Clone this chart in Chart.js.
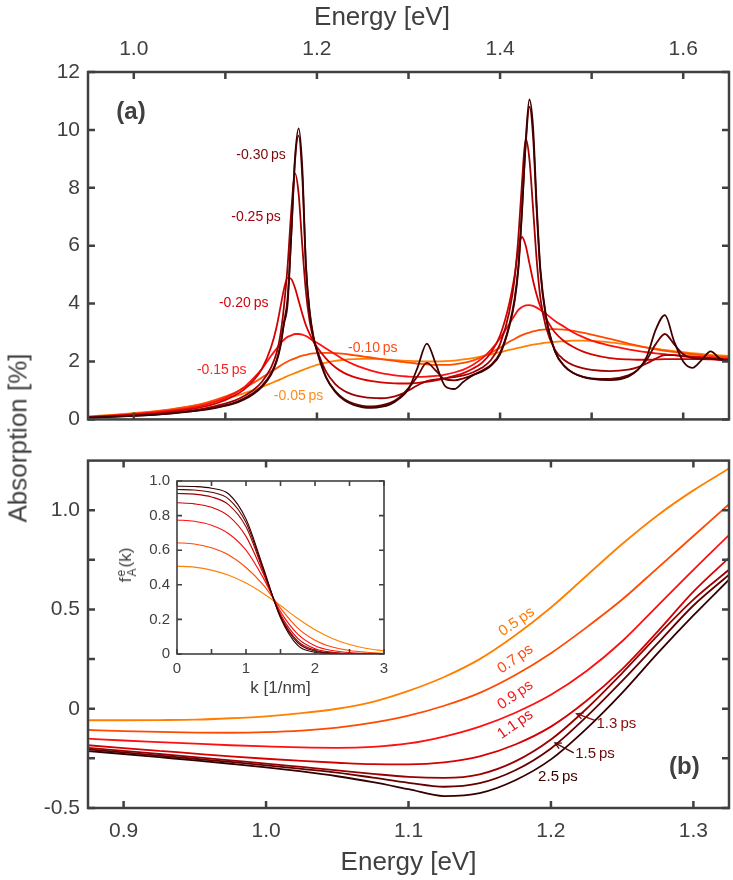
<!DOCTYPE html>
<html>
<head>
<meta charset="utf-8">
<title>Absorption spectra</title>
<script src="https://cdn.jsdelivr.net/npm/chart.js@4.4.1/dist/chart.umd.min.js"></script>
<style>
  body { margin: 0; background: #fff; }
  #fig { position: relative; width: 733px; height: 880px; font-family: 'Liberation Sans', Arial, sans-serif; color: #404040; }
  #fig canvas { position: absolute; display: block; }
  #ylab { position: absolute; left: 18px; top: 438px; transform: translate(-50%, -50%) rotate(-90deg); font-size: 26px; white-space: nowrap; }
  #xlabTop { position: absolute; left: 382px; top: 16px; transform: translate(-50%, -50%); font-size: 26px; white-space: nowrap; }
  #flab { position: absolute; left: 127px; top: 565px; transform: translate(-50%, -50%) rotate(-90deg); font-size: 17px; white-space: nowrap; }
  .ss { display: inline-block; vertical-align: middle; font-size: 12px; line-height: 11px; margin: 0 1px; }
  .ss span { display: block; }
</style>
</head>
<body>
<div id="fig">
  <canvas id="cA" width="733" height="440" style="left:0;top:0"></canvas>
  <canvas id="cB" width="733" height="440" style="left:0;top:440px"></canvas>
  <canvas id="cC" width="290" height="245" style="left:110px;top:465px"></canvas>
  <div id="xlabTop">Energy [eV]</div>
  <div id="ylab">Absorption [%]</div>
  <div id="flab">f<span class="ss"><span>e</span><span>A</span></span>(k)</div>
</div>
<script>
// ---- panel (a): absorption vs energy, early delays ----
const energyA = [0.95, 1.00, 1.04, 1.07, 1.09, 1.11, 1.12, 1.13, 1.14, 1.15,
  1.156, 1.160, 1.164, 1.168, 1.172, 1.176, 1.180, 1.184, 1.188, 1.192,
  1.196, 1.20, 1.21, 1.22, 1.23, 1.24, 1.25, 1.26, 1.27, 1.28,
  1.29, 1.30, 1.31, 1.32, 1.33, 1.34, 1.35, 1.36, 1.37, 1.38,
  1.39, 1.40, 1.41, 1.416, 1.420, 1.424, 1.428, 1.432, 1.436, 1.440,
  1.444, 1.45, 1.46, 1.47, 1.48, 1.49, 1.50, 1.52, 1.54, 1.55,
  1.56, 1.57, 1.58, 1.59, 1.60, 1.61, 1.62, 1.63, 1.64, 1.65];

const absA1 = [0.06, 0.12, 0.20, 0.30, 0.40, 0.55, 0.68, 0.86, 1.12, 1.55,
  2.0, 2.5, 3.3, 4.0, 6.4, 9.0, 10.05, 8.7, 5.3, 3.7,
  2.85, 2.4, 1.45, 0.95, 0.66, 0.50, 0.42, 0.40, 0.43, 0.52,
  0.72, 1.05, 1.8, 2.62, 1.9, 1.15, 1.05, 1.3, 1.52, 1.65,
  1.85, 2.25, 3.2, 4.1, 5.2, 7.2, 9.6, 11.05, 10.1, 7.4,
  5.2, 3.6, 2.35, 1.85, 1.6, 1.47, 1.4, 1.36, 1.48, 1.7,
  2.15, 3.1, 3.6, 2.7, 2.0, 1.78, 2.05, 2.35, 2.1, 2.02];
const absA2 = [0.06, 0.12, 0.21, 0.31, 0.42, 0.58, 0.72, 0.9, 1.17, 1.6,
  2.05, 2.55, 3.35, 4.2, 6.4, 8.9, 9.8, 8.4, 5.3, 3.75,
  2.9, 2.35, 1.45, 0.98, 0.70, 0.55, 0.47, 0.45, 0.48, 0.57,
  0.76, 1.08, 1.5, 1.95, 1.68, 1.38, 1.35, 1.42, 1.53, 1.68,
  1.88, 2.3, 3.25, 4.2, 5.3, 7.3, 9.5, 10.8, 9.8, 7.2,
  5.1, 3.55, 2.35, 1.85, 1.6, 1.48, 1.42, 1.4, 1.52, 1.7,
  2.05, 2.6, 2.95, 2.6, 2.25, 2.12, 2.1, 2.1, 2.06, 2.03];
const absA3 = [0.07, 0.14, 0.23, 0.34, 0.47, 0.65, 0.8, 1.0, 1.3, 1.8,
  2.3, 2.9, 3.9, 5.3, 7.2, 8.5, 7.8, 6.0, 4.4, 3.4,
  2.8, 2.4, 1.65, 1.22, 0.98, 0.85, 0.78, 0.74, 0.73, 0.76,
  0.85, 1.0, 1.18, 1.32, 1.38, 1.42, 1.46, 1.52, 1.62, 1.78,
  2.05, 2.6, 3.7, 4.9, 6.3, 8.2, 9.7, 9.0, 7.3, 5.5,
  4.2, 3.2, 2.4, 2.05, 1.87, 1.77, 1.71, 1.67, 1.72, 1.8,
  1.93, 2.1, 2.22, 2.22, 2.18, 2.15, 2.12, 2.1, 2.08, 2.06];
const absA4 = [0.08, 0.16, 0.27, 0.40, 0.55, 0.82, 1.02, 1.32, 1.75, 2.5,
  3.2, 3.85, 4.5, 4.9, 4.85, 4.55, 4.1, 3.65, 3.25, 2.95,
  2.7, 2.5, 2.1, 1.8, 1.6, 1.47, 1.38, 1.32, 1.28, 1.25,
  1.24, 1.24, 1.26, 1.3, 1.35, 1.42, 1.5, 1.6, 1.75, 1.95,
  2.3, 2.9, 4.0, 5.0, 5.9, 6.3, 6.0, 5.4, 4.8, 4.3,
  3.9, 3.5, 3.0, 2.7, 2.5, 2.35, 2.25, 2.12, 2.07, 2.06,
  2.06, 2.07, 2.08, 2.08, 2.08, 2.08, 2.08, 2.07, 2.06, 2.05];
const absA5 = [0.08, 0.18, 0.30, 0.45, 0.62, 0.9, 1.1, 1.4, 1.75, 2.2,
  2.45, 2.62, 2.75, 2.85, 2.9, 2.95, 2.95, 2.93, 2.88, 2.8,
  2.72, 2.65, 2.45, 2.25, 2.05, 1.9, 1.78, 1.68, 1.6, 1.55,
  1.5, 1.48, 1.47, 1.48, 1.5, 1.55, 1.62, 1.72, 1.88, 2.1,
  2.4, 2.8, 3.3, 3.6, 3.78, 3.88, 3.94, 3.95, 3.92, 3.86,
  3.78, 3.65, 3.4, 3.2, 3.0, 2.85, 2.72, 2.55, 2.42, 2.37,
  2.32, 2.28, 2.25, 2.22, 2.2, 2.18, 2.16, 2.14, 2.12, 2.1];
const absA6 = [0.09, 0.20, 0.34, 0.50, 0.68, 0.92, 1.08, 1.25, 1.45, 1.65,
  1.77, 1.85, 1.93, 2.0, 2.06, 2.11, 2.16, 2.2, 2.23, 2.26,
  2.28, 2.29, 2.3, 2.29, 2.26, 2.22, 2.18, 2.13, 2.08, 2.04,
  2.0, 1.96, 1.93, 1.9, 1.88, 1.88, 1.9, 1.95, 2.03, 2.15,
  2.3, 2.48, 2.68, 2.78, 2.85, 2.91, 2.96, 3.0, 3.04, 3.07,
  3.09, 3.11, 3.12, 3.1, 3.06, 3.0, 2.93, 2.78, 2.62, 2.55,
  2.48, 2.42, 2.37, 2.33, 2.29, 2.25, 2.22, 2.19, 2.17, 2.15];
const absA7 = [0.10, 0.22, 0.35, 0.50, 0.63, 0.8, 0.9, 1.0, 1.12, 1.25,
  1.33, 1.38, 1.44, 1.5, 1.55, 1.6, 1.65, 1.7, 1.75, 1.8,
  1.84, 1.88, 1.96, 2.02, 2.06, 2.08, 2.09, 2.09, 2.08, 2.06,
  2.04, 2.02, 2.01, 2.0, 2.0, 2.01, 2.03, 2.07, 2.12, 2.18,
  2.25, 2.32, 2.4, 2.44, 2.47, 2.5, 2.53, 2.56, 2.58, 2.6,
  2.62, 2.65, 2.68, 2.7, 2.72, 2.72, 2.71, 2.66, 2.58, 2.54,
  2.49, 2.44, 2.4, 2.36, 2.32, 2.29, 2.26, 2.23, 2.21, 2.19];

const xTicksA = [1.0, 1.1, 1.2, 1.3, 1.4, 1.5, 1.6];
const xLabelsA = ['1.0', '', '1.2', '', '1.4', '', '1.6'];
const yTicksA = [0, 2, 4, 6, 8, 10, 12];
const yLabelsA = ['0', '2', '4', '6', '8', '10', '12'];

// ---- panel (b): differential absorption, later delays ----
const energyB = [0.875, 0.9, 0.925, 0.95, 0.975, 1.0, 1.025, 1.05, 1.075, 1.1,
  1.125, 1.15, 1.175, 1.2, 1.225, 1.25, 1.275, 1.3, 1.325];
const delaysB = ['0.5 ps', '0.7 ps', '0.9 ps', '1.1 ps', '1.3 ps', '1.5 ps', '2.5 ps'];
const dAbs05 = [-0.058, -0.058, -0.057, -0.055, -0.048, -0.038, -0.022, 0.0, 0.035, 0.09,
  0.16, 0.25, 0.37, 0.51, 0.67, 0.83, 0.975, 1.1, 1.21];
const dAbs07 = [-0.107, -0.113, -0.117, -0.12, -0.121, -0.118, -0.11, -0.095, -0.07, -0.035,
  0.015, 0.08, 0.17, 0.28, 0.41, 0.55, 0.71, 0.87, 1.03];
const dAbs09 = [-0.151, -0.16, -0.168, -0.176, -0.184, -0.19, -0.195, -0.197, -0.192, -0.175,
  -0.14, -0.09, -0.02, 0.07, 0.19, 0.34, 0.52, 0.70, 0.875];
const dAbs11 = [-0.184, -0.198, -0.212, -0.226, -0.24, -0.252, -0.263, -0.272, -0.279, -0.28,
  -0.27, -0.24, -0.18, -0.09, 0.04, 0.2, 0.39, 0.59, 0.76];
const dAbs13 = [-0.197, -0.212, -0.228, -0.244, -0.26, -0.276, -0.293, -0.31, -0.328, -0.343,
  -0.348, -0.33, -0.265, -0.155, 0.0, 0.18, 0.37, 0.55, 0.70];
const dAbs15 = [-0.205, -0.22, -0.236, -0.252, -0.268, -0.285, -0.303, -0.322, -0.347, -0.373,
  -0.393, -0.375, -0.31, -0.2, -0.04, 0.14, 0.33, 0.52, 0.675];
const dAbs25 = [-0.213, -0.228, -0.244, -0.26, -0.277, -0.295, -0.316, -0.34, -0.37, -0.405,
  -0.44, -0.425, -0.36, -0.255, -0.1, 0.08, 0.28, 0.47, 0.65];

const xTicksB = [0.9, 1.0, 1.1, 1.2, 1.3];
const xLabelsB = ['0.9', '1.0', '1.1', '1.2', '1.3'];
const yTicksB = [-0.5, -0.25, 0, 0.25, 0.5, 0.75, 1.0];
const yLabelsB = ['-0.5', '', '0', '', '0.5', '', '1.0'];

// ---- inset: electron distribution f_A^e(k) ----
const kGrid = [0, 0.25, 0.5, 0.75, 1.0, 1.25, 1.5, 1.75, 2.0, 2.25, 2.5, 2.75, 3.0];
const fA05 = [0.508, 0.502, 0.485, 0.455, 0.41, 0.35, 0.28, 0.205, 0.14, 0.09, 0.055, 0.032, 0.018];
const fA07 = [0.643, 0.636, 0.614, 0.572, 0.5, 0.4, 0.265, 0.15, 0.08, 0.04, 0.02, 0.01, 0.004];
const fA09 = [0.775, 0.767, 0.744, 0.695, 0.6, 0.44, 0.245, 0.115, 0.048, 0.02, 0.008, 0.003, 0.001];
const fA11 = [0.874, 0.868, 0.848, 0.797, 0.68, 0.465, 0.23, 0.09, 0.03, 0.01, 0.003, 0.001, 0];
const fA13 = [0.928, 0.924, 0.908, 0.862, 0.735, 0.48, 0.22, 0.075, 0.022, 0.006, 0.002, 0, 0];
const fA15 = [0.951, 0.948, 0.935, 0.895, 0.76, 0.49, 0.215, 0.065, 0.017, 0.004, 0.001, 0, 0];
const fA25 = [0.97, 0.968, 0.958, 0.925, 0.78, 0.5, 0.21, 0.05, 0.01, 0.002, 0, 0, 0];

const xTicksC = [0, 0.5, 1, 1.5, 2, 2.5, 3];
const xLabelsC = ['0', '', '1', '', '2', '', '3'];
const yTicksC = [0, 0.2, 0.4, 0.6, 0.8, 1.0];
const yLabelsC = ['0', '0.2', '0.4', '0.6', '0.8', '1.0'];

// styles
const AXIS = '#404040';
const FONT = "'Liberation Sans', Arial, sans-serif";
const coloursA = ['#3d0000', '#6a0000', '#a00000', '#d60000', '#ff1010', '#ff4a00', '#ff8000'];
const coloursB = ['#ff8000', '#ff4a00', '#ff1010', '#d60000', '#9a0000', '#650000', '#330000'];

const toXY = (xs, ys) => xs.map((x, i) => ({ x, y: ys[i] }));

// box round the plot area with inward ticks on all four sides
const frame = {
  id: 'frame',
  beforeDatasetsDraw(chart, args, opts) {
    if (!opts.fill) return;
    const { ctx, chartArea: a } = chart;
    ctx.save();
    ctx.fillStyle = '#fff';
    ctx.fillRect(a.left, a.top, a.width, a.height);
    ctx.restore();
  },
  afterDatasetsDraw(chart, args, opts) {
    const { ctx, chartArea: a, scales: { x, y } } = chart;
    const len = opts.len || 7;
    ctx.save();
    ctx.strokeStyle = AXIS;
    ctx.lineWidth = opts.width || 2.5;
    ctx.beginPath();
    x.ticks.forEach(t => {
      const p = x.getPixelForValue(t.value);
      ctx.moveTo(p, a.top); ctx.lineTo(p, a.top + len);
      ctx.moveTo(p, a.bottom); ctx.lineTo(p, a.bottom - len);
    });
    y.ticks.forEach(t => {
      const p = y.getPixelForValue(t.value);
      ctx.moveTo(a.left, p); ctx.lineTo(a.left + len, p);
      ctx.moveTo(a.right, p); ctx.lineTo(a.right - len, p);
    });
    ctx.stroke();
    ctx.strokeRect(a.left, a.top, a.width, a.height);
    ctx.restore();
  }
};

// text labels and arrows placed in data coordinates
const notes = {
  id: 'notes',
  afterDatasetsDraw(chart, args, opts) {
    const { ctx, scales: { x, y } } = chart;
    (opts.arrows || []).forEach(r => {
      const x0 = x.getPixelForValue(r.from[0]), y0 = y.getPixelForValue(r.from[1]);
      const x1 = x.getPixelForValue(r.to[0]), y1 = y.getPixelForValue(r.to[1]);
      const ang = Math.atan2(y1 - y0, x1 - x0), h = 7;
      ctx.save();
      ctx.strokeStyle = r.color;
      ctx.lineWidth = 1.3;
      ctx.beginPath();
      ctx.moveTo(x0, y0); ctx.lineTo(x1, y1);
      ctx.moveTo(x1 - h * Math.cos(ang - 0.45), y1 - h * Math.sin(ang - 0.45));
      ctx.lineTo(x1, y1);
      ctx.lineTo(x1 - h * Math.cos(ang + 0.45), y1 - h * Math.sin(ang + 0.45));
      ctx.stroke();
      ctx.restore();
    });
    (opts.items || []).forEach(n => {
      ctx.save();
      ctx.translate(x.getPixelForValue(n.x), y.getPixelForValue(n.y));
      ctx.rotate((n.rot || 0) * Math.PI / 180);
      ctx.font = n.font || `15px ${FONT}`;
      ctx.fillStyle = n.color;
      ctx.textAlign = n.align || 'center';
      ctx.textBaseline = 'middle';
      ctx.fillText(n.text, 0, 0);
      ctx.restore();
    });
  }
};

function axis(opts) {
  return {
    type: 'linear',
    position: opts.position,
    min: opts.min,
    max: opts.max,
    afterBuildTicks: s => { s.ticks = opts.ticks.map(v => ({ value: v })); },
    afterFit: s => { if (opts.position === 'left') s.width = opts.size; else s.height = opts.size; },
    grid: { display: false, drawTicks: false },
    border: { display: false },
    ticks: {
      autoSkip: false, maxRotation: 0, padding: opts.pad,
      color: AXIS, font: { family: FONT, size: opts.fontSize },
      callback: (v, i) => opts.labels[i]
    },
    title: opts.title ? {
      display: true, text: opts.title, color: AXIS,
      font: { family: FONT, size: opts.titleSize }, padding: opts.titlePad
    } : { display: false }
  };
}

const base = {
  responsive: false,
  animation: false,
  events: [],
  elements: { point: { radius: 0 }, line: { cubicInterpolationMode: 'monotone' } }
};

// panel (a)
new Chart(document.getElementById('cA'), {
  type: 'line',
  data: {
    datasets: [absA1, absA2, absA3, absA4, absA5, absA6, absA7].map((s, i) => ({
      data: toXY(energyA, s), borderColor: coloursA[i], borderWidth: 1.8, fill: false
    }))
  },
  options: {
    ...base,
    layout: { padding: { left: 0, right: 4, top: 0, bottom: 17 } },
    plugins: {
      legend: { display: false }, tooltip: { enabled: false },
      frame: { len: 7, width: 2.5 },
      notes: {
        items: [
          { x: 0.997, y: 10.6, text: '(a)', color: AXIS, font: `bold 24px ${FONT}` },
          { x: 1.139, y: 9.13, text: '-0.30\u2009ps', color: '#7a0a0a', font: `14px ${FONT}` },
          { x: 1.1335, y: 6.97, text: '-0.25\u2009ps', color: '#a00010', font: `14px ${FONT}` },
          { x: 1.120, y: 4.03, text: '-0.20\u2009ps', color: '#d8000a', font: `14px ${FONT}` },
          { x: 1.096, y: 1.71, text: '-0.15\u2009ps', color: '#ff2020', font: `14px ${FONT}` },
          { x: 1.261, y: 2.46, text: '-0.10\u2009ps', color: '#ff4a1a', font: `14px ${FONT}` },
          { x: 1.180, y: 0.82, text: '-0.05\u2009ps', color: '#ff8a1a', font: `14px ${FONT}` }
        ]
      }
    },
    scales: {
      x: axis({ position: 'top', min: 0.95, max: 1.65, ticks: xTicksA, labels: xLabelsA, size: 72,
        pad: 10, fontSize: 21 }),
      y: axis({ position: 'left', min: 0, max: 12, ticks: yTicksA, labels: yLabelsA, size: 88,
        pad: 8, fontSize: 21 })
    }
  },
  plugins: [frame, notes]
});

// panel (b)
new Chart(document.getElementById('cB'), {
  type: 'line',
  data: {
    datasets: [dAbs25, dAbs15, dAbs13, dAbs11, dAbs09, dAbs07, dAbs05].map((s, i) => ({
      label: delaysB[6 - i], data: toXY(energyB, s), borderColor: coloursB[6 - i], borderWidth: 1.8, fill: false
    }))
  },
  options: {
    ...base,
    layout: { padding: { left: 0, right: 4, top: 13, bottom: 0 } },
    plugins: {
      legend: { display: false }, tooltip: { enabled: false },
      frame: { len: 7, width: 2.5 },
      notes: {
        arrows: [
          { from: [1.2308, -0.059], to: [1.218, -0.025], color: '#8b0a0a' },
          { from: [1.216, -0.222], to: [1.2028, -0.172], color: '#5a0505' }
        ],
        items: [
          { x: 1.2937, y: -0.296, text: '(b)', color: AXIS, font: `bold 24px ${FONT}` },
          { x: 1.176, y: 0.438, text: delaysB[0].replace(' ', '\u2009'), color: '#ff7a00', rot: -35 },
          { x: 1.175, y: 0.251, text: delaysB[1].replace(' ', '\u2009'), color: '#ff4a10', rot: -35 },
          { x: 1.175, y: 0.069, text: delaysB[2].replace(' ', '\u2009'), color: '#ff1a1a', rot: -35 },
          { x: 1.175, y: -0.079, text: delaysB[3].replace(' ', '\u2009'), color: '#e0101a', rot: -35 },
          { x: 1.232, y: -0.074, text: delaysB[4].replace(' ', '\u2009'), color: '#8b0a0a', align: 'left' },
          { x: 1.217, y: -0.227, text: delaysB[5].replace(' ', '\u2009'), color: '#6a0808', align: 'left' },
          { x: 1.191, y: -0.345, text: delaysB[6].replace(' ', '\u2009'), color: '#3a0000', align: 'left' }
        ]
      }
    },
    scales: {
      x: axis({ position: 'bottom', min: 0.875, max: 1.325, ticks: xTicksB, labels: xLabelsB, size: 72,
        pad: 11, fontSize: 21, title: 'Energy [eV]', titleSize: 26, titlePad: { top: 2, bottom: 2 } }),
      y: axis({ position: 'left', min: -0.5, max: 1.25, ticks: yTicksB, labels: yLabelsB, size: 88,
        pad: 8, fontSize: 21 })
    }
  },
  plugins: [frame, notes]
});

// inset
new Chart(document.getElementById('cC'), {
  type: 'line',
  data: {
    datasets: [fA25, fA15, fA13, fA11, fA09, fA07, fA05].map((s, i) => ({
      data: toXY(kGrid, s), borderColor: coloursB[6 - i], borderWidth: 1.1, fill: false
    }))
  },
  options: {
    ...base,
    layout: { padding: { left: 0, right: 16, top: 14, bottom: 0 } },
    plugins: {
      legend: { display: false }, tooltip: { enabled: false },
      frame: { len: 5, width: 1.6, fill: true }
    },
    scales: {
      x: axis({ position: 'bottom', min: 0, max: 3, ticks: xTicksC, labels: xLabelsC, size: 56,
        pad: 6, fontSize: 15, title: 'k [1/nm]', titleSize: 17, titlePad: { top: 0, bottom: 11 } }),
      y: axis({ position: 'left', min: 0, max: 1, ticks: yTicksC, labels: yLabelsC, size: 67,
        pad: 7, fontSize: 15 })
    }
  },
  plugins: [frame]
});
</script>
</body>
</html>
